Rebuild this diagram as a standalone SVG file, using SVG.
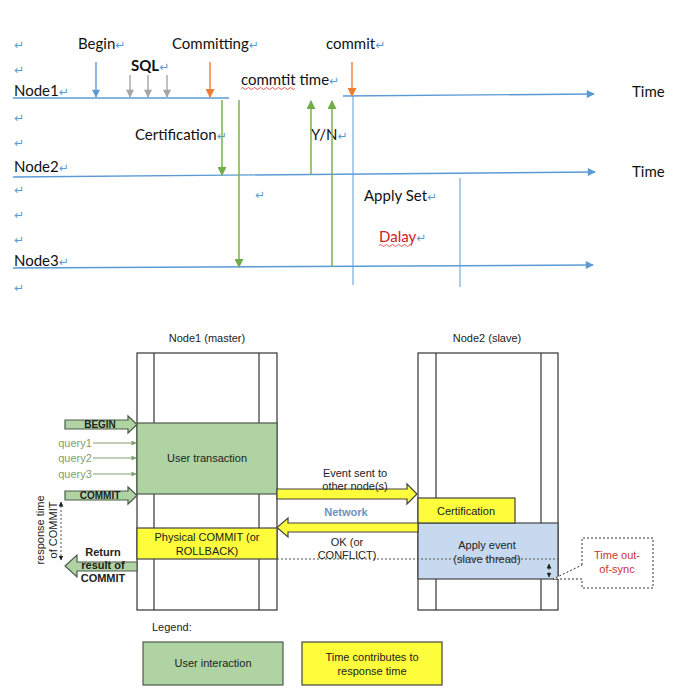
<svg xmlns="http://www.w3.org/2000/svg" width="699" height="695" viewBox="0 0 699 695">
<defs>
<marker id="ab" viewBox="0 0 10 10" refX="9" refY="5" markerWidth="10" markerHeight="8" markerUnits="userSpaceOnUse" orient="auto"><path d="M0,0 L10,5 L0,10 Z" fill="#5b9bd5"/></marker>
<marker id="ag" viewBox="0 0 10 10" refX="9" refY="5" markerWidth="10" markerHeight="9" markerUnits="userSpaceOnUse" orient="auto"><path d="M0,0 L10,5 L0,10 Z" fill="#70ad47"/></marker>
<marker id="ao" viewBox="0 0 10 10" refX="9" refY="5" markerWidth="10" markerHeight="9" markerUnits="userSpaceOnUse" orient="auto"><path d="M0,0 L10,5 L0,10 Z" fill="#ed7d31"/></marker>
<marker id="ay" viewBox="0 0 10 10" refX="9" refY="5" markerWidth="9" markerHeight="8" markerUnits="userSpaceOnUse" orient="auto"><path d="M0,0 L10,5 L0,10 Z" fill="#a5a5a5"/></marker>
<marker id="aq" viewBox="0 0 10 10" refX="9" refY="5" markerWidth="6" markerHeight="5" markerUnits="userSpaceOnUse" orient="auto"><path d="M0,0 L10,5 L0,10 Z" fill="#7f9f6f"/></marker>
<marker id="ak" viewBox="0 0 10 10" refX="9" refY="5" markerWidth="5" markerHeight="5" markerUnits="userSpaceOnUse" orient="auto-start-reverse"><path d="M0,0 L10,5 L0,10 Z" fill="#222"/></marker>
</defs>
<style>
.t{font-family:Lato,"Liberation Sans",sans-serif;font-size:15px;fill:#111}
.r{font-family:"DejaVu Sans",sans-serif;font-size:12px;fill:#5b9bd5}
.bl{stroke:#5b9bd5;stroke-width:1.4;fill:none}
.bv{stroke:#5b9bd5;stroke-width:1;fill:none}
.gr{stroke:#70ad47;stroke-width:1.4;fill:none}
.wavy{stroke:#e03030;stroke-width:0.8;fill:none}
.s{font-family:"Liberation Sans",Arial,sans-serif;font-size:11px;fill:#222;text-anchor:middle;dominant-baseline:central}
.box{fill:#fff;stroke:#333;stroke-width:1.2}
.ln{stroke:#333;stroke-width:1.2}
.green{fill:#afd3a3;stroke:#4d5a4a;stroke-width:1.2}
.yel{fill:#fdfd3c;stroke:#444;stroke-width:1.2}
.blue{fill:#c6d9ee;stroke:#444;stroke-width:1.2}
.dot{stroke:#555;stroke-width:1;stroke-dasharray:2,2;fill:none}
</style>
<rect width="699" height="695" fill="#fff"/>

<g id="top-labels">
<text class="t" x="14" y="49"><tspan class="r">↵</tspan></text>
<text class="t" x="14" y="74"><tspan class="r">↵</tspan></text>
<text class="t" x="14" y="122"><tspan class="r">↵</tspan></text>
<text class="t" x="14" y="147"><tspan class="r">↵</tspan></text>
<text class="t" x="14" y="194"><tspan class="r">↵</tspan></text>
<text class="t" x="14" y="219"><tspan class="r">↵</tspan></text>
<text class="t" x="14" y="244"><tspan class="r">↵</tspan></text>
<text class="t" x="14" y="292"><tspan class="r">↵</tspan></text>
<text class="t" x="78" y="49">Begin<tspan class="r">↵</tspan></text>
<text class="t" x="172" y="49">Committing<tspan class="r">↵</tspan></text>
<text class="t" x="326" y="49">commit<tspan class="r">↵</tspan></text>
<text class="t" x="131" y="71" font-weight="bold">SQL<tspan class="r" font-weight="normal">↵</tspan></text>
<text class="t" x="241" y="85">commtit time<tspan class="r">↵</tspan></text>
<path class="wavy" d="M241,88.5 q1.5,-2 3,0 t3,0 t3,0 t3,0 t3,0 t3,0 t3,0 t3,0 t3,0 t3,0 t3,0 t3,0 t3,0 t3,0 t3,0 t3,0 t3,0 t3,0"/>
<text class="t" x="14" y="96">Node1<tspan class="r">↵</tspan></text>
<text class="t" x="135" y="140">Certification<tspan class="r">↵</tspan></text>
<text class="t" x="311" y="140">Y/N<tspan class="r">↵</tspan></text>
<text class="t" x="14" y="172">Node2<tspan class="r">↵</tspan></text>
<text class="t" x="632" y="97">Time</text>
<text class="t" x="632" y="177">Time</text>
<text class="t" x="255" y="199"><tspan class="r">↵</tspan></text>
<text class="t" x="364" y="201">Apply Set<tspan class="r">↵</tspan></text>
<text class="t" x="379" y="242" style="fill:#d02020">Dalay<tspan class="r">↵</tspan></text>
<path class="wavy" d="M379,245.5 q1.5,-2 3,0 t3,0 t3,0 t3,0 t3,0 t3,0 t3,0 t3,0 t3,0 t3,0 t3,0"/>
<text class="t" x="14" y="266">Node3<tspan class="r">↵</tspan></text>
</g>

<g id="timeline-connectors">
<line class="bl" x1="13" y1="98" x2="229" y2="98"/>
<line class="bl" x1="343" y1="96" x2="594" y2="94" marker-end="url(#ab)"/>
<line class="bl" x1="13" y1="177" x2="595" y2="172" marker-end="url(#ab)"/>
<line class="bl" x1="13" y1="268" x2="593" y2="265" marker-end="url(#ab)"/>
<line class="bv" x1="353" y1="96" x2="353" y2="285"/>
<line class="bv" x1="460" y1="178" x2="460" y2="287"/>
<line class="bl" x1="96" y1="62" x2="96" y2="97" marker-end="url(#ab)"/>
<line stroke="#a5a5a5" stroke-width="1.4" x1="130" y1="75" x2="130" y2="97" marker-end="url(#ay)"/>
<line stroke="#a5a5a5" stroke-width="1.4" x1="148" y1="75" x2="148" y2="97" marker-end="url(#ay)"/>
<line stroke="#a5a5a5" stroke-width="1.4" x1="167" y1="75" x2="167" y2="97" marker-end="url(#ay)"/>
<line stroke="#ed7d31" stroke-width="1.4" x1="210" y1="62" x2="210" y2="97" marker-end="url(#ao)"/>
<line stroke="#ed7d31" stroke-width="1.4" x1="352" y1="62" x2="352" y2="96" marker-end="url(#ao)"/>
<line class="gr" x1="222" y1="100" x2="222" y2="175" marker-end="url(#ag)"/>
<line class="gr" x1="239" y1="100" x2="239" y2="267" marker-end="url(#ag)"/>
<line class="gr" x1="311" y1="174" x2="311" y2="101" marker-end="url(#ag)"/>
<line class="gr" x1="332" y1="267" x2="332" y2="101" marker-end="url(#ag)"/>
</g>

<g id="node1-master">
<text class="s" x="207" y="338">Node1 (master)</text>
<rect class="box" x="137" y="353" width="140" height="257"/>
<line class="ln" x1="154" y1="353" x2="154" y2="610"/>
<line class="ln" x1="259" y1="353" x2="259" y2="610"/>
<rect class="green" x="137" y="423" width="140" height="71"/>
<text class="s" x="207" y="458">User transaction</text>
<rect class="yel" x="137" y="528" width="140" height="31"/>
<text class="s" x="207" y="537">Physical COMMIT (or</text>
<text class="s" x="207" y="551">ROLLBACK)</text>
</g>

<g id="node2-slave">
<text class="s" x="487" y="338">Node2 (slave)</text>
<rect class="box" x="418" y="353" width="140" height="257"/>
<line class="ln" x1="436" y1="353" x2="436" y2="610"/>
<line class="ln" x1="541" y1="353" x2="541" y2="610"/>
<rect class="blue" x="418" y="523" width="140" height="56"/>
<rect class="yel" x="418" y="498" width="97" height="25"/>
<text class="s" x="466" y="511">Certification</text>
<text class="s" x="487" y="545">Apply event</text>
<text class="s" x="487" y="559">(slave thread)</text>
</g>

<g id="client-side">
<path class="green" d="M65,420 H128 V416 L137,424.5 L128,433 V429 H65 Z"/>
<text class="s" x="100" y="424" style="font-size:10px;font-weight:bold">BEGIN</text>
<path class="green" d="M65,491 H128 V487 L137,495.5 L128,504 V500 H65 Z"/>
<text class="s" x="100" y="495" style="font-size:10px;font-weight:bold">COMMIT</text>
<text class="s" x="75" y="443" style="fill:#7f9f6f">query1</text>
<text class="s" x="75" y="458" style="fill:#7f9f6f">query2</text>
<text class="s" x="75" y="474" style="fill:#7f9f6f">query3</text>
<path class="green" d="M137,562 H77 V555 L65,566 L77,577 V571 H137 Z"/>
<text class="s" x="103" y="552" style="font-weight:bold">Return</text>
<text class="s" x="103" y="565" style="font-weight:bold">result of</text>
<text class="s" x="103" y="578" style="font-weight:bold">COMMIT</text>
<text class="s" transform="translate(40,530) rotate(-90)">response time</text>
<text class="s" transform="translate(53,530) rotate(-90)">of COMMIT</text>
</g>

<g id="connectors">
<line stroke="#7f9f6f" stroke-width="1.2" x1="93" y1="443" x2="136" y2="443" marker-end="url(#aq)"/>
<line stroke="#7f9f6f" stroke-width="1.2" x1="93" y1="458" x2="136" y2="458" marker-end="url(#aq)"/>
<line stroke="#7f9f6f" stroke-width="1.2" x1="93" y1="474" x2="136" y2="474" marker-end="url(#aq)"/>
<path class="yel" d="M277,489 H407 V484 L417,494 L407,504 V499 H277 Z"/>
<path class="yel" d="M418,523 H288 V518 L277,527.5 L288,537 V532 H418 Z"/>
<line class="dot" x1="277" y1="559" x2="558" y2="559"/>
<line class="dot" x1="61" y1="502" x2="61" y2="560" marker-start="url(#ak)" marker-end="url(#ak)"/>
<line class="dot" x1="549" y1="564" x2="549" y2="577" marker-start="url(#ak)" marker-end="url(#ak)"/>
<text class="s" x="355" y="473">Event sent to</text>
<text class="s" x="355" y="486">other node(s)</text>
<text class="s" x="346" y="512" style="fill:#6a93c4;font-weight:bold">Network</text>
<text class="s" x="347" y="542">OK (or</text>
<text class="s" x="347" y="555">CONFLICT)</text>
</g>

<g id="time-out-of-sync">
<path class="dot" d="M582,565 V538 H653 V588 H582 V579 L553,579 Z" style="fill:#fff;stroke:#333"/>
<text class="s" x="617" y="555" style="fill:#cc3333">Time out-</text>
<text class="s" x="617" y="569" style="fill:#cc3333">of-sync</text>
</g>

<g id="legend">
<text class="s" x="152" y="627" style="text-anchor:start">Legend:</text>
<rect class="green" x="143" y="642" width="140" height="43"/>
<text class="s" x="213" y="663">User interaction</text>
<rect class="yel" x="302" y="642" width="140" height="43"/>
<text class="s" x="372" y="657">Time contributes to</text>
<text class="s" x="372" y="671">response time</text>
</g>
</svg>
